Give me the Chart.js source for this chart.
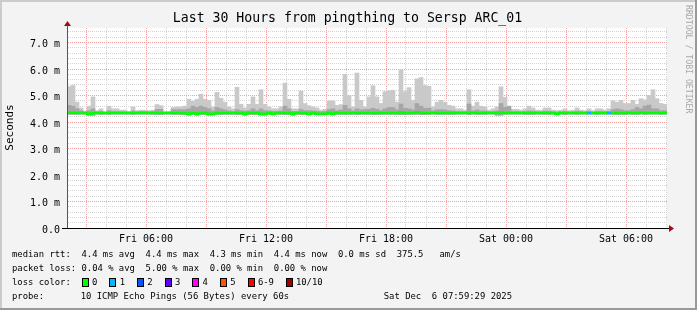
<!DOCTYPE html>
<html>
<head>
<meta charset="utf-8">
<title>Last 30 Hours from pingthing to Sersp ARC_01</title>
<script src="https://cdn.jsdelivr.net/npm/chart.js@4.4.1/dist/chart.umd.min.js"></script>
<style>
  html, body { margin: 0; padding: 0; background: #f3f3f3; }
  canvas { display: block; }
</style>
</head>
<body>
<canvas id="smokeChart" width="697" height="310"></canvas>
<script>
// time axis in minutes after Fri 00:00, one bar every 12 minutes
const START_MIN = 123;
const SPAN_MIN = 1800;
const STEP_MIN = 12;

// smoke: highest ping, upper edge of the denser pings, lowest ping (ms)
const smokeTop = [
  5.34, 5.38, 4.75, 4.53, 4.41, 4.60, 4.95, 4.43, 4.50, 4.39,
  4.60, 4.50, 4.50, 4.45, 4.45, 4.40, 4.57, 4.43, 4.45, 4.45,
  4.43, 4.45, 4.66, 4.62, 4.40, 4.40, 4.55, 4.57, 4.57, 4.60,
  4.86, 4.78, 4.86, 5.05, 4.86, 4.82, 4.57, 5.12, 4.90, 4.75,
  4.57, 4.50, 5.31, 4.67, 4.53, 4.67, 4.95, 4.67, 5.22, 4.67,
  4.57, 4.50, 4.50, 4.57, 5.47, 4.86, 4.50, 4.50, 5.17, 4.70,
  4.62, 4.57, 4.53, 4.45, 4.48, 4.80, 4.80, 4.63, 4.66, 5.80,
  5.00, 4.57, 5.85, 4.82, 4.57, 4.95, 5.37, 4.95, 4.70, 5.15,
  5.18, 5.20, 4.75, 5.97, 5.15, 5.30, 4.82, 5.63, 5.68, 5.38,
  5.35, 4.57, 4.75, 4.82, 4.75, 4.63, 4.60, 4.50, 4.50, 4.45,
  5.22, 4.60, 4.75, 4.60, 4.57, 4.45, 4.50, 4.57, 5.33, 4.93,
  4.50, 4.48, 4.48, 4.45, 4.50, 4.60, 4.53, 4.45, 4.45, 4.53,
  4.53, 4.45, 4.43, 4.45, 4.50, 4.43, 4.45, 4.53, 4.45, 4.43,
  4.50, 4.43, 4.50, 4.50, 4.45, 4.50, 4.80, 4.75, 4.82, 4.70,
  4.70, 4.82, 4.67, 4.88, 4.84, 5.00, 5.22, 4.88, 4.70, 4.67
];
const smokeMid = [
  4.63, 4.60, 4.50, 4.43, 4.38, 4.43, 4.50, 4.39, 4.41, 4.37,
  4.43, 4.40, 4.40, 4.39, 4.39, 4.37, 4.42, 4.39, 4.40, 4.40,
  4.39, 4.40, 4.48, 4.48, 4.37, 4.37, 4.47, 4.47, 4.47, 4.47,
  4.50, 4.60, 4.55, 4.60, 4.55, 4.50, 4.42, 4.55, 4.50, 4.46,
  4.42, 4.40, 4.47, 4.43, 4.41, 4.43, 4.50, 4.43, 4.50, 4.43,
  4.42, 4.40, 4.40, 4.42, 4.60, 4.50, 4.40, 4.40, 4.48, 4.43,
  4.43, 4.42, 4.41, 4.39, 4.40, 4.47, 4.50, 4.43, 4.46, 4.63,
  4.50, 4.42, 4.50, 4.46, 4.47, 4.48, 4.52, 4.48, 4.43, 4.50,
  4.55, 4.55, 4.46, 4.68, 4.52, 4.50, 4.46, 4.70, 4.60, 4.52,
  4.52, 4.42, 4.46, 4.47, 4.46, 4.43, 4.42, 4.40, 4.40, 4.39,
  4.68, 4.42, 4.46, 4.42, 4.42, 4.39, 4.40, 4.42, 4.70, 4.55,
  4.60, 4.40, 4.40, 4.39, 4.40, 4.42, 4.41, 4.39, 4.39, 4.41,
  4.41, 4.39, 4.38, 4.39, 4.40, 4.38, 4.39, 4.41, 4.39, 4.38,
  4.40, 4.38, 4.40, 4.40, 4.39, 4.40, 4.47, 4.50, 4.47, 4.43,
  4.43, 4.47, 4.55, 4.50, 4.60, 4.64, 4.50, 4.50, 4.43, 4.43
];
const smokeLow = [
  4.29, 4.29, 4.29, 4.30, 4.30, 4.25, 4.25, 4.30, 4.29, 4.30,
  4.29, 4.30, 4.30, 4.30, 4.30, 4.30, 4.29, 4.30, 4.30, 4.30,
  4.30, 4.29, 4.29, 4.28, 4.30, 4.30, 4.29, 4.29, 4.28, 4.28,
  4.26, 4.28, 4.26, 4.28, 4.28, 4.26, 4.26, 4.28, 4.28, 4.29,
  4.29, 4.29, 4.28, 4.29, 4.26, 4.28, 4.28, 4.29, 4.26, 4.26,
  4.29, 4.27, 4.29, 4.29, 4.28, 4.28, 4.26, 4.29, 4.28, 4.29,
  4.27, 4.29, 4.27, 4.27, 4.27, 4.28, 4.27, 4.29, 4.29, 4.28,
  4.29, 4.29, 4.28, 4.29, 4.29, 4.29, 4.28, 4.28, 4.29, 4.29,
  4.29, 4.29, 4.29, 4.28, 4.28, 4.29, 4.29, 4.29, 4.28, 4.28,
  4.29, 4.30, 4.29, 4.29, 4.29, 4.29, 4.29, 4.30, 4.30, 4.30,
  4.28, 4.30, 4.29, 4.29, 4.29, 4.30, 4.30, 4.26, 4.26, 4.29,
  4.30, 4.30, 4.30, 4.30, 4.29, 4.29, 4.29, 4.30, 4.30, 4.29,
  4.29, 4.30, 4.27, 4.30, 4.28, 4.30, 4.30, 4.29, 4.30, 4.30,
  4.30, 4.30, 4.29, 4.30, 4.30, 4.30, 4.29, 4.28, 4.29, 4.28,
  4.30, 4.29, 4.29, 4.30, 4.29, 4.30, 4.30, 4.30, 4.29, 4.30
];
// median rtt (ms)
const medianRtt = [
  4.35, 4.35, 4.34, 4.34, 4.34, 4.31, 4.33, 4.34, 4.34, 4.34,
  4.34, 4.34, 4.34, 4.34, 4.34, 4.34, 4.34, 4.34, 4.34, 4.34,
  4.34, 4.34, 4.34, 4.34, 4.34, 4.34, 4.34, 4.34, 4.34, 4.34,
  4.31, 4.34, 4.31, 4.34, 4.34, 4.31, 4.31, 4.34, 4.34, 4.34,
  4.34, 4.34, 4.34, 4.34, 4.31, 4.34, 4.34, 4.34, 4.31, 4.31,
  4.34, 4.31, 4.34, 4.34, 4.34, 4.34, 4.31, 4.34, 4.34, 4.34,
  4.31, 4.34, 4.31, 4.31, 4.31, 4.34, 4.31, 4.34, 4.34, 4.34,
  4.34, 4.34, 4.34, 4.34, 4.34, 4.34, 4.34, 4.34, 4.34, 4.34,
  4.34, 4.34, 4.34, 4.36, 4.34, 4.34, 4.34, 4.36, 4.35, 4.34,
  4.34, 4.34, 4.34, 4.34, 4.34, 4.34, 4.34, 4.34, 4.34, 4.34,
  4.35, 4.34, 4.34, 4.34, 4.34, 4.34, 4.34, 4.34, 4.36, 4.34,
  4.34, 4.34, 4.34, 4.34, 4.34, 4.34, 4.34, 4.34, 4.34, 4.34,
  4.34, 4.34, 4.31, 4.34, 4.34, 4.34, 4.34, 4.34, 4.34, 4.34,
  4.34, 4.34, 4.34, 4.34, 4.34, 4.34, 4.34, 4.34, 4.34, 4.34,
  4.34, 4.34, 4.34, 4.35, 4.34, 4.34, 4.34, 4.34, 4.34, 4.34
];
// lost pings per step
const lossCount = [
  0, 0, 0, 0, 0, 0, 0, 0, 0, 0,
  0, 0, 0, 0, 0, 0, 0, 0, 0, 0,
  0, 0, 0, 0, 0, 0, 0, 0, 0, 0,
  0, 0, 0, 0, 0, 0, 0, 0, 0, 0,
  0, 0, 0, 0, 0, 0, 0, 0, 0, 0,
  0, 0, 0, 0, 0, 0, 0, 0, 0, 0,
  0, 0, 0, 0, 0, 0, 0, 0, 0, 0,
  0, 0, 0, 0, 0, 0, 0, 0, 0, 0,
  0, 0, 0, 0, 0, 0, 0, 0, 0, 0,
  0, 0, 0, 0, 0, 0, 0, 0, 0, 0,
  0, 0, 0, 0, 0, 0, 0, 0, 0, 0,
  0, 0, 0, 0, 0, 0, 0, 0, 0, 0,
  0, 0, 0, 0, 0, 0, 0, 0, 0, 0,
  1, 0, 0, 0, 0, 1, 0, 0, 0, 0,
  0, 0, 0, 0, 0, 0, 0, 0, 0, 0
];

const lossLabels = ['0', '1', '2', '3', '4', '5', '6-9', '10/10'];
const lossColors = ['#00ff00', '#00b8ff', '#0059ff', '#5e00ff', '#ff00ff', '#ff5500', '#ff0000', '#a10000'];

const yLabelValues = [0, 1, 2, 3, 4, 5, 6, 7];
const yLabels = ['0.0', '1.0 m', '2.0 m', '3.0 m', '4.0 m', '5.0 m', '6.0 m', '7.0 m'];
const xLabelValues = [360, 720, 1080, 1440, 1800];
const xLabels = ['Fri 06:00', 'Fri 12:00', 'Fri 18:00', 'Sat 00:00', 'Sat 06:00'];

const titleText = 'Last 30 Hours from pingthing to Sersp ARC_01';
const statLines = [
  'median rtt:  4.4 ms avg  4.4 ms max  4.3 ms min  4.4 ms now  0.0 ms sd  375.5   am/s',
  'packet loss: 0.04 % avg  5.00 % max  0.00 % min  0.00 % now'
];
const probeText = '10 ICMP Echo Pings (56 Bytes) every 60s';
const stampText = 'Sat Dec  6 07:59:29 2025';

const MONO = '"DejaVu Sans Mono", "Liberation Mono", monospace';

function lossIndex(n) {
  if (n >= 10) return 7;
  if (n >= 6) return 6;
  return n;
}

const barCenters = smokeTop.map((_, i) => START_MIN + STEP_MIN * i + STEP_MIN / 2);
const lightSmoke = barCenters.map((x, i) => ({ x: x, y: [smokeLow[i], smokeTop[i]] }));
const darkSmoke = barCenters.map((x, i) => ({ x: x, y: [smokeLow[i], smokeMid[i]] }));
const medianSteps = medianRtt.map((v, i) => ({ x: START_MIN + STEP_MIN * i, y: v }));
medianSteps.push({ x: START_MIN + STEP_MIN * medianRtt.length, y: medianRtt[medianRtt.length - 1] });

// grid: x every hour (red every 3h), y every 0.2 (red every 1.0)
const hourTicks = [];
for (let m = Math.ceil(START_MIN / 60) * 60; m <= START_MIN + SPAN_MIN; m += 60) hourTicks.push(m);
const minorY = [];
for (let k = 0; k <= 37; k++) minorY.push(k / 5);

const isWhole = v => Math.abs(v - Math.round(v)) < 1e-6;

const rrdFrame = {
  id: 'rrdFrame',
  beforeDraw(chart) {
    const { ctx, chartArea: a, width, height } = chart;
    ctx.save();
    ctx.fillStyle = '#f3f3f3';
    ctx.fillRect(0, 0, width, height);
    ctx.fillStyle = '#cbcbcb';
    ctx.fillRect(0, 0, width, 2);
    ctx.fillRect(0, 0, 2, height);
    ctx.fillStyle = '#999999';
    ctx.fillRect(0, height - 2, width, 2);
    ctx.fillRect(width - 2, 0, 2, height);
    ctx.fillStyle = '#ffffff';
    ctx.fillRect(a.left, a.top, a.right - a.left, a.bottom - a.top);
    ctx.restore();
  },
  afterDraw(chart) {
    const { ctx, chartArea: a } = chart;
    ctx.save();

    // axis extensions and arrow heads
    ctx.strokeStyle = '#000';
    ctx.lineWidth = 1;
    ctx.beginPath();
    ctx.moveTo(a.left - 5, a.bottom + 0.5);
    ctx.lineTo(a.right + 2, a.bottom + 0.5);
    ctx.stroke();
    ctx.strokeStyle = '#555';
    ctx.beginPath();
    ctx.moveTo(a.left + 0.5, a.bottom);
    ctx.lineTo(a.left + 0.5, a.top - 4);
    ctx.stroke();
    ctx.fillStyle = '#a01010';
    ctx.beginPath();
    ctx.moveTo(a.left - 3, a.top - 2);
    ctx.lineTo(a.left + 4, a.top - 2);
    ctx.lineTo(a.left + 0.5, a.top - 7);
    ctx.closePath();
    ctx.fill();
    ctx.beginPath();
    ctx.moveTo(a.right + 2, a.bottom - 3);
    ctx.lineTo(a.right + 2, a.bottom + 4);
    ctx.lineTo(a.right + 7, a.bottom + 0.5);
    ctx.closePath();
    ctx.fill();

    // title
    ctx.fillStyle = '#000';
    ctx.font = '13.2px ' + MONO;
    ctx.textAlign = 'center';
    ctx.textBaseline = 'middle';
    ctx.fillText(titleText, 347.5, 19);

    // vertical unit label
    ctx.save();
    ctx.translate(10.5, 127.5);
    ctx.rotate(-Math.PI / 2);
    ctx.font = '11px ' + MONO;
    ctx.fillText('Seconds', 0, 0);
    ctx.restore();

    // watermark
    ctx.save();
    ctx.translate(688, 5);
    ctx.rotate(Math.PI / 2);
    ctx.font = '8.2px ' + MONO;
    ctx.fillStyle = '#a8a8a8';
    ctx.textAlign = 'left';
    ctx.fillText('RRDTOOL / TOBI OETIKER', 0, 0);
    ctx.restore();

    // legend block
    ctx.font = '8.9px ' + MONO;
    ctx.textAlign = 'left';
    ctx.fillStyle = '#000';
    ctx.fillText(statLines[0], 12, 255);
    ctx.fillText(statLines[1], 12, 268.5);
    ctx.fillText('loss color:', 12, 282.5);
    let bx = 81.7;
    lossLabels.forEach((lab, k) => {
      ctx.fillStyle = lossColors[k];
      ctx.fillRect(Math.round(bx), 279, 6, 7);
      ctx.strokeStyle = '#000';
      ctx.strokeRect(Math.round(bx) + 0.5, 278.5, 6, 8);
      ctx.fillStyle = '#000';
      ctx.fillText(lab, bx + 10.3, 282.5);
      bx += k === 6 ? 38 : 27.65;
    });
    ctx.fillText('probe:', 12, 296.5);
    ctx.fillText(probeText, 80.7, 296.5);
    ctx.textAlign = 'right';
    ctx.fillText(stampText, 512, 296.5);
    ctx.restore();
  }
};

const ctx = document.getElementById('smokeChart').getContext('2d');

const smokeChart = new Chart(ctx, {
  type: 'bar',
  data: {
    datasets: [
      {
        type: 'line',
        label: 'median rtt',
        data: medianSteps,
        stepped: 'before',
        borderWidth: 2.5,
        borderColor: lossColors[0],
        borderCapStyle: 'butt',
        pointRadius: 0,
        fill: false,
        order: 0,
        segment: {
          borderColor: c => lossColors[lossIndex(lossCount[c.p0DataIndex] || 0)]
        }
      },
      {
        label: 'smoke inner',
        data: darkSmoke,
        backgroundColor: '#a6a6a6',
        borderWidth: 0,
        grouped: false,
        barPercentage: 1,
        categoryPercentage: 1,
        order: 1
      },
      {
        label: 'smoke',
        data: lightSmoke,
        backgroundColor: '#c9c9c9',
        borderWidth: 0,
        grouped: false,
        barPercentage: 1,
        categoryPercentage: 1,
        order: 2
      }
    ]
  },
  options: {
    responsive: false,
    animation: false,
    devicePixelRatio: 1,
    layout: { padding: { left: 0, top: 28, right: 30, bottom: 0 } },
    plugins: {
      legend: { display: false },
      title: { display: false },
      tooltip: { enabled: false }
    },
    scales: {
      x: {
        type: 'linear',
        offset: false,
        min: START_MIN,
        max: START_MIN + SPAN_MIN,
        afterBuildTicks: s => { s.ticks = hourTicks.map(v => ({ value: v })); },
        afterFit: s => { s.height = 82; },
        ticks: {
          autoSkip: false,
          maxRotation: 0,
          padding: 5,
          color: '#000',
          font: { family: MONO, size: 10 },
          callback: v => {
            const k = xLabelValues.indexOf(v);
            return k >= 0 ? xLabels[k] : '';
          }
        },
        grid: {
          offset: false,
          drawTicks: false,
          lineWidth: 1,
          color: c => (c.tick && c.tick.value % 180 === 0) ? '#f4a0a0' : '#d4d4d4'
        },
        border: { display: true, color: '#000', width: 1, dash: [1, 1] }
      },
      y: {
        type: 'linear',
        min: 0,
        max: 7.55,
        afterBuildTicks: s => { s.ticks = minorY.map(v => ({ value: v })); },
        afterFit: s => { s.width = 67; },
        ticks: {
          autoSkip: false,
          padding: 7,
          labelOffset: 2,
          color: '#000',
          font: { family: MONO, size: 10 },
          callback: v => {
            if (!isWhole(v)) return '';
            const k = yLabelValues.indexOf(Math.round(v));
            return k >= 0 ? yLabels[k] : '';
          }
        },
        grid: {
          drawTicks: false,
          lineWidth: 1,
          color: c => (c.tick && isWhole(c.tick.value) && c.tick.value > 0) ? '#f4a0a0' : '#d4d4d4'
        },
        border: { display: true, color: '#555', width: 1, dash: [1, 1] }
      }
    }
  },
  plugins: [rrdFrame]
});
</script>
</body>
</html>
